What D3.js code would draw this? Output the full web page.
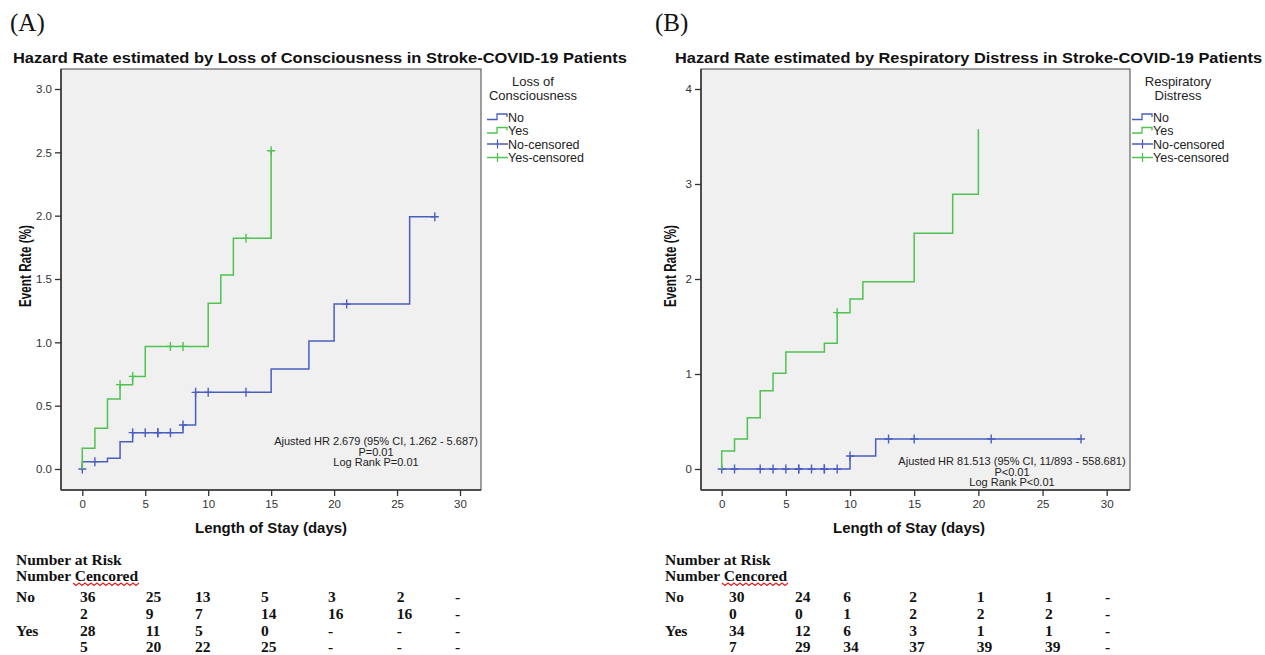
<!DOCTYPE html>
<html><head><meta charset="utf-8">
<script src="https://cdn.jsdelivr.net/npm/d3@7"></script>
<style>
body{margin:0;background:#fff;}
svg{display:block;}
</style></head>
<body>
<svg id="chart" width="1265" height="655"></svg>
<script>
// ---------- DATA ----------
// Panel A: Loss of Consciousness
const aNoTimes   = [0, 0, 2, 3, 4, 8, 9, 15, 18, 20, 26, 28];
const aNoRates   = [0, 0.058, 0.084, 0.216, 0.287, 0.347, 0.605, 0.789, 1.01, 1.302, 1.991, 1.991];
const aNoCensT   = [0, 1, 4, 5, 6, 6, 7, 8, 9, 10, 13, 21, 28];
const aNoCensV   = [0, 0.058, 0.287, 0.287, 0.287, 0.287, 0.287, 0.347, 0.605, 0.605, 0.605, 1.302, 1.991];
const aYesTimes  = [0, 0, 1, 2, 3, 4, 5, 10, 11, 12, 15];
const aYesRates  = [0, 0.163, 0.321, 0.552, 0.666, 0.731, 0.968, 1.308, 1.531, 1.821, 2.512];
const aYesCensT  = [3, 4, 7, 8, 13, 15];
const aYesCensV  = [0.666, 0.731, 0.968, 0.968, 1.821, 2.512];

// Panel B: Respiratory Distress
const bNoTimes   = [0, 10, 12, 28];
const bNoRates   = [0, 0.137, 0.316, 0.316];
const bNoCensT   = [0, 1, 3, 4, 5, 6, 6, 7, 8, 8, 9, 10, 13, 15, 21, 28];
const bNoCensV   = [0, 0, 0, 0, 0, 0, 0, 0, 0, 0, 0, 0.137, 0.316, 0.316, 0.316, 0.316];
const bYesTimes  = [0, 0, 1, 2, 3, 4, 5, 8, 9, 10, 11, 15, 18, 20];
const bYesRates  = [0, 0.189, 0.316, 0.54, 0.824, 1.007, 1.232, 1.323, 1.646, 1.789, 1.972, 2.481, 2.891, 3.576];
const bYesCensT  = [9];
const bYesCensV  = [1.646];

const xTicks  = [0, 5, 10, 15, 20, 25, 30];
const aYTicks = [0, 0.5, 1.0, 1.5, 2.0, 2.5, 3.0];
const bYTicks = [0, 1, 2, 3, 4];

const legendLabels = ["No", "Yes", "No-censored", "Yes-censored"];

// Risk tables
const aRiskNo   = ["36", "25", "13", "5", "3", "2", "-"];
const aCensNo   = ["2", "9", "7", "14", "16", "16", "-"];
const aRiskYes  = ["28", "11", "5", "0", "-", "-", "-"];
const aCensYes  = ["5", "20", "22", "25", "-", "-", "-"];
const bRiskNo   = ["30", "24", "6", "2", "1", "1", "-"];
const bCensNo   = ["0", "0", "1", "2", "2", "2", "-"];
const bRiskYes  = ["34", "12", "6", "3", "1", "1", "-"];
const bCensYes  = ["7", "29", "34", "37", "39", "39", "-"];

// ---------- DRAW ----------
const BLUE = "#4a5ec0", GREEN = "#4fc251", BG = "#f0f0f0";
const svg = d3.select("#chart");
const SANS = "'Liberation Sans', Arial, sans-serif";
const SERIF = "'Liberation Serif', 'Times New Roman', serif";

function zip(t, v){ return t.map((d,i)=>[d, v[i]]); }

function panel(cfg){
  const g = svg.append("g");
  const x = d3.scaleLinear().domain([0,30]).range(cfg.xr);
  const y = d3.scaleLinear().domain(cfg.yd).range([469, 89]);

  // panel letter
  g.append("text").attr("x", cfg.letterX).attr("y", 31)
    .attr("font-family", SERIF).attr("font-size", 25).attr("fill","#111").text(cfg.letter);
  // title
  g.append("text").attr("x", cfg.titleX).attr("y", 63)
    .attr("font-family", SANS).attr("font-weight","bold").attr("font-size", 15)
    .attr("textLength", cfg.titleW).attr("lengthAdjust","spacingAndGlyphs")
    .attr("fill","#111").text(cfg.title);

  // plot box
  g.append("rect").attr("x", cfg.box[0]).attr("y", 69)
    .attr("width", cfg.box[1]-cfg.box[0]).attr("height", 490-69)
    .attr("fill", BG).attr("stroke", "#444").attr("stroke-width", 1);

  // axes
  const ya = g.append("g").attr("transform", `translate(${cfg.box[0]},0)`)
    .call(d3.axisLeft(y).tickValues(cfg.yTicks).tickFormat(cfg.yFmt).tickSize(6).tickSizeOuter(0).tickPadding(3));
  const xa = g.append("g").attr("transform", `translate(0,490)`)
    .call(d3.axisBottom(x).tickValues(xTicks).tickFormat(d3.format("d")).tickSize(6).tickSizeOuter(0).tickPadding(4));
  [ya, xa].forEach(a=>{
    a.select(".domain").remove();
    a.selectAll("line").attr("stroke","#333").attr("stroke-width",1.3);
    a.selectAll("text").attr("font-family", SANS).attr("font-size", 11.5).attr("fill","#333");
  });
  g.append("line").attr("x1", cfg.box[0]).attr("x2", cfg.box[0]).attr("y1", 69).attr("y2", 490)
    .attr("stroke","#333").attr("stroke-width",1.5);
  g.append("line").attr("x1", cfg.box[0]).attr("x2", cfg.box[1]).attr("y1", 490).attr("y2", 490)
    .attr("stroke","#333").attr("stroke-width",1.5);

  // axis titles
  g.append("text").attr("x", cfg.xTitleX).attr("y", 533).attr("text-anchor","middle")
    .attr("font-family", SANS).attr("font-weight","bold").attr("font-size", 15)
    .attr("textLength", 152).attr("lengthAdjust","spacingAndGlyphs")
    .attr("fill","#111").text("Length of Stay (days)");
  g.append("text").attr("transform", `translate(${cfg.yTitleX},266) rotate(-90)`).attr("text-anchor","middle")
    .attr("font-family", SANS).attr("font-weight","bold").attr("font-size", 16.5)
    .attr("textLength", 82).attr("lengthAdjust","spacingAndGlyphs")
    .attr("fill","#111").text("Event Rate (%)");

  // curves
  const line = d3.line().x(d=>x(d[0])).y(d=>y(d[1])).curve(d3.curveStepAfter);
  cfg.series.forEach(s=>{
    g.append("path").datum(zip(s.t, s.v)).attr("d", line)
      .attr("fill","none").attr("stroke", s.color).attr("stroke-width", 1.5);
    g.selectAll(null).data(zip(s.ct, s.cv)).enter().append("path")
      .attr("transform", d=>`translate(${x(d[0])},${y(d[1])})`)
      .attr("d","M-4,0H4M0,-4.5V4.5").attr("stroke", s.color).attr("stroke-width",1.4).attr("fill","none");
  });

  // annotation
  const ann = g.append("text").attr("font-family", SANS).attr("font-size", 11)
    .attr("fill","#222").attr("text-anchor","middle");
  cfg.ann.forEach((t,i)=>{
    ann.append("tspan").attr("x", cfg.annX).attr("y", cfg.annY + i*10.6).text(t);
  });

  // legend
  const lg = g.append("g");
  cfg.legTitle.forEach((t,i)=>{
    lg.append("text").attr("x", cfg.legTitleX).attr("y", 86 + i*13.5).attr("text-anchor","middle")
      .attr("font-family", SANS).attr("font-size", 13).attr("fill","#222").text(t);
  });
  const lx = cfg.legX;
  const ys = [117, 130.5, 144, 157.5];
  legendLabels.forEach((lab,i)=>{
    const col = (i % 2 === 0) ? BLUE : GREEN;
    const yy = ys[i];
    if (i < 2) {
      lg.append("path").attr("d", `M${lx},${yy+2.5}H${lx+10}V${yy-3}H${lx+20}V${yy}`)
        .attr("fill","none").attr("stroke", col).attr("stroke-width",1.3);
    } else {
      lg.append("path").attr("d", `M${lx},${yy}H${lx+21}M${lx+10.5},${yy-4.5}V${yy+4.5}`)
        .attr("fill","none").attr("stroke", col).attr("stroke-width",1.3);
    }
    lg.append("text").attr("x", lx+21).attr("y", yy+4.5).attr("font-family", SANS).attr("font-size", 12.5)
      .attr("fill","#222").text(lab);
  });

  // risk table
  const tg = g.append("g").attr("font-family", SERIF).attr("font-weight","bold").attr("font-size", 15.5).attr("fill","#111");
  tg.append("text").attr("x", cfg.tblX).attr("y", 565).text("Number at Risk");
  tg.append("text").attr("x", cfg.tblX).attr("y", 581).text("Number Cencored");
  // red spell-check squiggle
  let sq = `M${cfg.tblX+57},583`;
  for (let k=0; k<22; k++){ sq += ` l3,${k%2===0?2.5:-2.5}`; }
  g.append("path").attr("d", sq).attr("fill","none").attr("stroke","#e02020").attr("stroke-width",1.2);
  const rows = [
    {lab:"No", vals: cfg.rows[0], y:601.5},
    {lab:"",   vals: cfg.rows[1], y:619},
    {lab:"Yes",vals: cfg.rows[2], y:635.5},
    {lab:"",   vals: cfg.rows[3], y:652}
  ];
  rows.forEach(r=>{
    if (r.lab) tg.append("text").attr("x", cfg.tblX).attr("y", r.y).text(r.lab);
    r.vals.forEach((v,j)=>{
      tg.append("text").attr("x", cfg.cols[j]).attr("y", r.y).text(v);
    });
  });
}

panel({
  letter:"(A)", letterX:10,
  title:"Hazard Rate estimated by Loss of Consciousness in Stroke-COVID-19 Patients", titleX:13, titleW:614,
  xr:[82.3, 460], yd:[0,3], box:[61, 481], yTicks:aYTicks, yFmt:d3.format(".1f"),
  xTitleX:271, yTitleX:31,
  series:[
    {t:aNoTimes, v:aNoRates, ct:aNoCensT, cv:aNoCensV, color:BLUE},
    {t:aYesTimes, v:aYesRates, ct:aYesCensT, cv:aYesCensV, color:GREEN}
  ],
  ann:["Ajusted HR 2.679 (95% CI, 1.262 - 5.687)", "P=0.01", "Log Rank P=0.01"], annX:376, annY:445,
  legTitle:["Loss of", "Consciousness"], legTitleX:533, legX:487,
  tblX:16, cols:[80, 145.7, 195, 261, 328, 396.7, 455],
  rows:[aRiskNo, aCensNo, aRiskYes, aCensYes]
});

panel({
  letter:"(B)", letterX:655,
  title:"Hazard Rate estimated by Respiratory Distress in Stroke-COVID-19 Patients", titleX:675, titleW:587,
  xr:[721.7, 1106.7], yd:[0,4], box:[701, 1130], yTicks:bYTicks, yFmt:d3.format("d"),
  xTitleX:909, yTitleX:676,
  series:[
    {t:bNoTimes, v:bNoRates, ct:bNoCensT, cv:bNoCensV, color:BLUE},
    {t:bYesTimes, v:bYesRates, ct:bYesCensT, cv:bYesCensV, color:GREEN}
  ],
  ann:["Ajusted HR 81.513 (95% CI, 11/893 - 558.681)", "P<0.01", "Log Rank P<0.01"], annX:1012, annY:465,
  legTitle:["Respiratory", "Distress"], legTitleX:1178, legX:1132,
  tblX:665, cols:[729, 795, 843.3, 909.3, 976.7, 1045, 1105],
  rows:[bRiskNo, bCensNo, bRiskYes, bCensYes]
});
</script>
</body></html>
